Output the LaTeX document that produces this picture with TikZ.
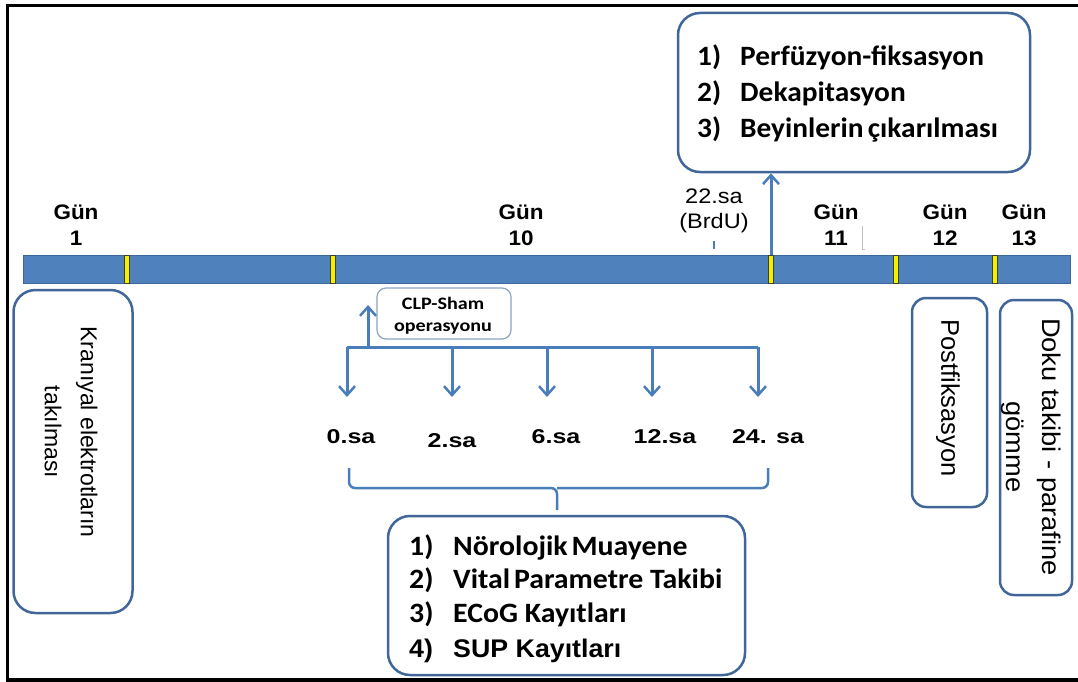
\documentclass[tikz,border=0pt]{standalone}
\usepackage{graphicx}
\usepackage{fontspec}
\setmainfont{Liberation Sans}
\newfontfamily\calfont{Carlito}
\usetikzlibrary{arrows.meta}
\definecolor{barblue}{HTML}{4F81BD}
\definecolor{bardark}{HTML}{3B679A}
\definecolor{boxblue}{HTML}{41679A}
\definecolor{arrblue}{HTML}{4A7EBB}
\definecolor{ticky}{HTML}{F2F200}
\newcommand{\hs}[2]{\scalebox{#1}[1]{#2}}
\newcommand{\twol}[2]{\begin{tabular}{@{}c@{}}#1\\#2\end{tabular}}
\tikzset{
  frameline/.style={line width=3.5pt, black},
  roundbox/.style={draw=boxblue, line width=2.5pt, fill=white, rounded corners=22pt, inner sep=0pt},
  smallbox/.style={draw=boxblue!60, line width=1.2pt, fill=white, rounded corners=9pt, inner sep=0pt},
  ytick/.style={draw=black!70!olive, line width=0.7pt, fill=ticky},
  blarrow/.style={draw=arrblue, line width=3pt, -{Straight Barb[length=9pt,width=16pt,line width=2.5pt]}},
  blline/.style={draw=arrblue, line width=3pt},
  gunlbl/.style={font=\bfseries\fontsize{21}{26}\selectfont, inner sep=0pt},
  hrlbl/.style={font=\bfseries\fontsize{20}{24}\selectfont, inner sep=0pt},
  listtxt/.style={font=\calfont\bfseries\fontsize{28}{30}\selectfont, inner sep=0pt, anchor=base west},
  vtxt/.style={rotate=-90, inner sep=0pt},
}
\begin{document}
\begin{tikzpicture}[x=1pt,y=-1pt]
\useasboundingbox (0,0) rectangle (1078,682);
\fill[white] (0,0) rectangle (1078,682);
% frame
\draw[frameline] (1078,5.5) -- (7.5,5.5) -- (7.5,680) -- (1078,680);

% timeline bar
\node[draw=bardark, line width=1pt, fill=barblue, minimum width=1047pt, minimum height=28pt, inner sep=0pt] (bar) at (546.5,269) {};
\foreach \x [count=\i] in {127,333,771,896,995} {
  \filldraw[ytick] (\x-2.5,255) rectangle (\x+2.5,283);
  \coordinate (t\i) at (\x,255);
}

% day labels
\node[gunlbl] (g1) at (76,227) {\hs{1.07}{\twol{Gün}{1}}};
\node[gunlbl] (g10) at (521,227) {\hs{1.07}{\twol{Gün}{10}}};
\node[gunlbl] (g11) at (836,227) {\hs{1.07}{\twol{Gün}{11}}};
\node[gunlbl] (g12) at (945,227) {\hs{1.07}{\twol{Gün}{12}}};
\node[gunlbl] (g13) at (1024,227) {\hs{1.07}{\twol{Gün}{13}}};
\node[font=\fontsize{21}{25}\selectfont, inner sep=0pt] (brdu) at (714,211) {\hs{1.12}{\twol{22.sa}{(BrdU)}}};
\draw[arrblue, line width=2pt] (714,241) -- (714,249);
\draw[gray!50, line width=0.5pt] (862,226) -- (862,249) -- (865,249);

% top box
\node[roundbox, minimum width=352pt, minimum height=159pt] (topbox) at (854,92.5) {};
\node[listtxt] (tn1) at (697,66) {\hs{1.05}{1)}};
\node[listtxt] (tl1) at (740,66) {\hs{1.05}{Perfüzyon-fiksasyon}};
\node[listtxt] (tn2) at (697,102) {\hs{1.05}{2)}};
\node[listtxt] (tl2) at (740,102) {\hs{1.05}{Dekapitasyon}};
\node[listtxt] (tn3) at (697,138) {\hs{1.05}{3)}};
\node[listtxt] (tl3) at (740,138) {\hs{1.05}{Beyinlerin\kern-0.08em\ çıkarılması}};
\coordinate (upstart) at (771,255);
\draw[blarrow] (upstart) -- (topbox.south -| upstart);

% left box
\node[roundbox, minimum width=119pt, minimum height=323pt] (kbox) at (73,451.5) {};
\node[vtxt, font=\fontsize{23}{36}\selectfont] (ktxt) at (70,432) {\twol{Kranıyal elektrotların}{takılması}};

% right boxes
\node[roundbox, rounded corners=14pt, minimum width=75pt, minimum height=209pt] (pbox) at (949.5,402.5) {};
\node[vtxt, font=\fontsize{25.5}{30}\selectfont] (ptxt) at (948,398) {Postfiksasyon};
\node[roundbox, rounded corners=14pt, minimum width=72pt, minimum height=295pt] (dbox) at (1036,447.5) {};
\node[vtxt, font=\fontsize{25.5}{36}\selectfont] (dtxt) at (1032,447) {\hs{1.07}{\twol{Doku takibi - parafine}{gömme}}};

% CLP box
\node[smallbox, minimum width=134pt, minimum height=51pt] (clp) at (444,313.5) {};
\node[font=\calfont\bfseries\fontsize{17.5}{22}\selectfont, inner sep=0pt] (clptxt) at (443,316) {\hs{1.15}{\twol{CLP-Sham}{operasyonu}}};

% hour arrows
\coordinate (hl) at (347,347);
\coordinate (hr) at (758,347);
\draw[blline] (hl) -- (hr);
\coordinate (upfoot) at (368,347);
\draw[blarrow] (upfoot) -- (368,305);
\node[hrlbl] (h0) at (351,437) {\hs{1.25}{0.sa}};
\node[hrlbl] (h2) at (452,441) {\hs{1.25}{2.sa}};
\node[hrlbl] (h6) at (556,437) {\hs{1.25}{6.sa}};
\node[hrlbl] (h12) at (665,437) {\hs{1.25}{12.sa}};
\node[hrlbl] (h24) at (768,437) {\hs{1.25}{24. sa}};
\foreach \x/\n in {347/h0,452/h2,547/h6,652/h12,758/h24} {
  \draw[blarrow] (\x,347) -- (\x,397);
}

% brace
\coordinate (bl) at (349,468);
\coordinate (br) at (768,468);
\coordinate (bm) at (557,510);
\draw[blline, line width=2.5pt, rounded corners=6pt] (bl) -- (349,488) -- (557,488) -- (bm);
\draw[blline, line width=2.5pt, rounded corners=6pt] (br) -- (768,488) -- (557,488);

% bottom box
\node[roundbox, minimum width=357pt, minimum height=159pt] (botbox) at (566.5,595.5) {};
\node[listtxt] (bn1) at (409,555) {\hs{1.065}{1)}};
\node[listtxt] (bl1) at (453,555) {\hs{1.065}{Nörolojik\kern-0.1em\ Muayene}};
\node[listtxt] (bn2) at (409,588) {\hs{1.065}{2)}};
\node[listtxt] (bl2) at (453,588) {\hs{1.065}{Vital\kern-0.1em\ Parametre Takibi}};
\node[listtxt] (bn3) at (409,622) {\hs{1.065}{3)}};
\node[listtxt] (bl3) at (453,622) {\hs{1.065}{ECoG Kayıtları}};
\node[listtxt, font=\bfseries\fontsize{25.5}{28}\selectfont] (bn4) at (409,657) {\hs{1.05}{4)}};
\node[listtxt, font=\bfseries\fontsize{25.5}{28}\selectfont] (bl4) at (453,657) {\hs{1.05}{SUP Kayıtları}};
\end{tikzpicture}
\end{document}
